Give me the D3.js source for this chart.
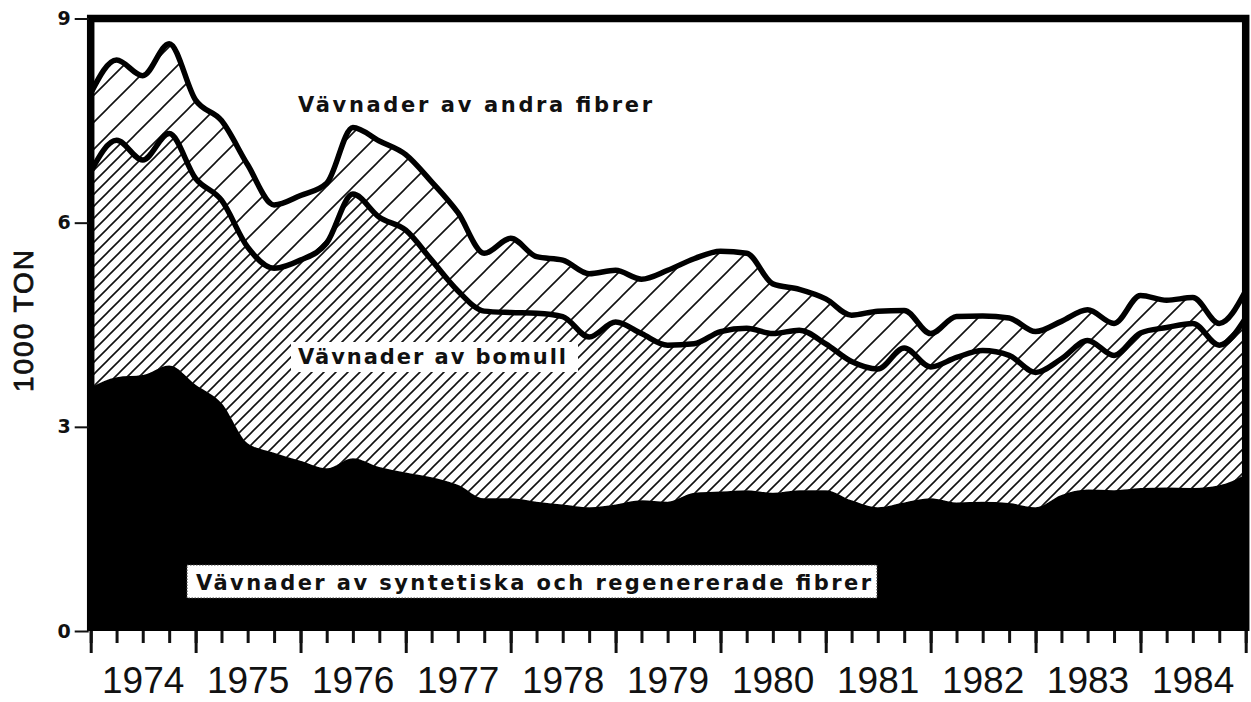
<!DOCTYPE html>
<html lang="sv">
<head>
<meta charset="utf-8">
<title>Vävnader 1974-1984</title>
<script src="https://d3js.org/d3.v7.min.js"></script>
<style>
body,html{
  margin:0;
  padding:0;
  background:#fff;
}
.year{font-family:"Liberation Sans",Arial,sans-serif;font-size:37px;fill:#111;}
.lbl{font-family:"DejaVu Sans",sans-serif;font-weight:bold;font-size:21px;fill:#111;}
</style>
</head>
<body>
<script>

var w = 1251, h = 702;

// quarterly values, 1000 ton, Q1 1974 .. Q1 1985 (45 points)
var syntetiska = [3.58,3.73,3.76,3.90,3.62,3.35,2.76,2.62,2.50,2.39,2.54,2.41,2.33,2.26,2.15,
                  1.95,1.95,1.90,1.86,1.82,1.86,1.92,1.90,2.03,2.05,2.07,2.03,2.07,2.07,1.92,
                  1.82,1.89,1.95,1.89,1.90,1.88,1.82,2.00,2.08,2.07,2.10,2.11,2.10,2.14,2.30];
var bomull     = [3.17,3.48,3.16,3.41,3.03,2.98,2.88,2.71,2.95,3.31,3.88,3.67,3.56,3.19,2.85,
                  2.75,2.73,2.77,2.76,2.50,2.68,2.45,2.30,2.19,2.35,2.38,2.34,2.35,2.15,2.04,
                  2.03,2.27,1.93,2.13,2.22,2.17,1.98,2.00,2.19,1.98,2.28,2.35,2.42,2.06,2.30];
var andra      = [1.15,1.18,1.24,1.32,1.15,1.17,1.21,0.93,0.95,0.88,0.98,1.12,1.11,1.15,1.15,
                  0.85,1.09,0.83,0.83,0.93,0.76,0.80,1.10,1.25,1.18,1.10,0.73,0.60,0.66,0.68,
                  0.85,0.55,0.49,0.60,0.51,0.55,0.60,0.55,0.45,0.47,0.55,0.40,0.38,0.32,0.40];

var years = ["1974","1975","1976","1977","1978","1979","1980","1981","1982","1983","1984"];
var yTicks = [0, 3, 6, 9];

var dates = syntetiska.map(function(d, i){ return new Date(1974, i * 3, 1); });

var rows = dates.map(function(d, i){
  return {date: d, syn: syntetiska[i], bom: bomull[i], andra: andra[i]};
});

var x = d3.scaleTime()
  .domain([new Date(1974, 0, 1), new Date(1985, 0, 1)])
  .range([90.7, 1245.7]);

var y = d3.scaleLinear()
  .domain([0, 9])
  .range([631, 18.5]);

var svg = d3.select("body").append("svg")
  .attr("width", w)
  .attr("height", h);

var defs = svg.append("defs");

function hatch(id, step, sw){
  var p = defs.append("pattern")
    .attr("id", id)
    .attr("patternUnits", "userSpaceOnUse")
    .attr("width", step)
    .attr("height", step);
  p.append("rect").attr("width", step).attr("height", step).attr("fill", "#fff");
  p.append("path")
    .attr("d", "M-1," + (step + 1) + "L" + (step + 1) + ",-1" +
               "M" + (-step / 2) + "," + (step / 2) + "L" + (step / 2) + "," + (-step / 2) +
               "M" + (step / 2) + "," + (step * 1.5) + "L" + (step * 1.5) + "," + (step / 2))
    .attr("stroke", "#111")
    .attr("stroke-width", sw);
}
hatch("dense", 12, 1.6);
hatch("sparse", 27, 1.6);

defs.append("clipPath").attr("id", "plotclip")
  .append("rect")
  .attr("x", x.range()[0]).attr("y", y(9))
  .attr("width", x.range()[1] - x.range()[0])
  .attr("height", y(0) - y(9));

var stack = d3.stack().keys(["syn", "bom", "andra"]);
var series = stack(rows);

var area = d3.area()
  .curve(d3.curveMonotoneX)
  .x(function(d){ return x(d.data.date); })
  .y0(function(d){ return y(d[0]); })
  .y1(function(d){ return y(d[1]); });

var topLine = d3.line()
  .curve(d3.curveMonotoneX)
  .x(function(d){ return x(d.data.date); })
  .y(function(d){ return y(d[1]); });

var fills = ["#000", "url(#dense)", "url(#sparse)"];

var plot = svg.append("g").attr("clip-path", "url(#plotclip)");

plot.selectAll("path.layer")
  .data(series)
  .enter()
  .append("path")
  .attr("class", "layer")
  .attr("d", area)
  .attr("fill", function(d, i){ return fills[i]; })
  .attr("stroke", function(d, i){ return i == 0 ? "#000" : "none"; })
  .attr("stroke-width", 1);

// the two thick outline curves
plot.selectAll("path.edge")
  .data(series.slice(1))
  .enter()
  .append("path")
  .attr("class", "edge")
  .attr("d", topLine)
  .attr("fill", "none")
  .attr("stroke", "#000")
  .attr("stroke-width", 5.5)
  .attr("stroke-linejoin", "round");

// labels
function label(txt, x0, x1, base, box){
  var g = svg.append("g");
  if (box) {
    g.append("rect")
      .attr("x", box[0]).attr("y", box[1])
      .attr("width", box[2] - box[0]).attr("height", box[3] - box[1])
      .attr("fill", "#fff")
      .attr("stroke", box[4] ? "#444" : "none")
      .attr("stroke-width", 1.2)
      .attr("stroke-dasharray", "1.5,1.5");
  }
  g.append("text")
    .attr("class", "lbl")
    .attr("x", x0)
    .attr("y", base)
    .attr("textLength", x1 - x0)
    .attr("lengthAdjust", "spacing")
    .text(txt);
}
label("Vävnader av andra fibrer", 298, 652, 112, null);
label("Vävnader av bomull", 298, 566, 364, [291, 342, 578, 372, false]);
label("Vävnader av syntetiska och regenererade fibrer", 196, 871, 590, [187, 565, 877, 598, true]);

// frame (top, left, right)
svg.append("path")
  .attr("d", "M" + x.range()[0] + "," + y(0) + "V" + y(9) + "H" + x.range()[1] + "V" + y(0))
  .attr("fill", "none")
  .attr("stroke", "#000")
  .attr("stroke-width", 7.5)
  .attr("stroke-linejoin", "miter");

// x axis: quarterly and yearly ticks
var xMinor = d3.axisBottom(x)
  .ticks(d3.timeMonth.every(3))
  .tickSize(12)
  .tickFormat("");
var xMajor = d3.axisBottom(x)
  .ticks(d3.timeYear.every(1))
  .tickSize(22)
  .tickFormat("");

[xMinor, xMajor].forEach(function(ax){
  var g = svg.append("g")
    .attr("transform", "translate(0," + y(0) + ")")
    .call(ax);
  g.select(".domain").remove();
  g.selectAll(".tick line").attr("stroke", "#111").attr("stroke-width", 3);
});

svg.append("g")
  .selectAll("text")
  .data(years)
  .enter()
  .append("text")
  .attr("class", "year")
  .attr("text-anchor", "middle")
  .attr("x", function(d){ return (x(new Date(+d, 0, 1)) + x(new Date(+d + 1, 0, 1))) / 2; })
  .attr("y", 693)
  .text(function(d){ return d; });

// y axis
var yAxis = d3.axisLeft(y)
  .tickValues(yTicks)
  .tickSize(14)
  .tickPadding(4)
  .tickFormat(d3.format("d"));

var ya = svg.append("g")
  .attr("transform", "translate(" + (x.range()[0] - 2) + ",0)")
  .call(yAxis);
ya.select(".domain").remove();
ya.selectAll(".tick line").attr("stroke", "#111").attr("stroke-width", 2);
ya.selectAll(".tick text")
  .style("font-family", "'DejaVu Sans', sans-serif")
  .style("font-weight", "bold")
  .style("font-size", "19px")
  .style("fill", "#111");

svg.append("text")
  .attr("transform", "translate(33,321) rotate(-90)")
  .attr("text-anchor", "middle")
  .style("font-family", "'Liberation Sans', Arial, sans-serif")
  .style("font-size", "28px")
  .style("fill", "#111")
  .style("stroke", "#111")
  .style("stroke-width", 0.8)
  .attr("textLength", 142)
  .attr("lengthAdjust", "spacing")
  .text("1000 TON");

</script>
</body>
</html>
